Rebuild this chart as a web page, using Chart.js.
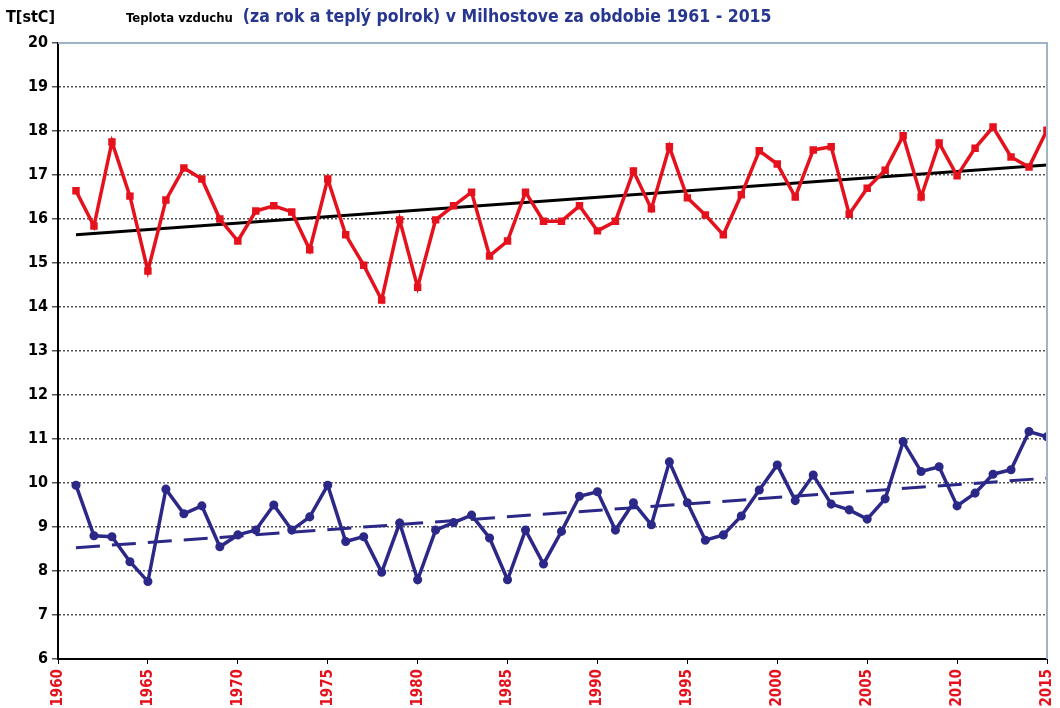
<!DOCTYPE html>
<html>
<head>
<meta charset="utf-8">
<script src="https://cdn.jsdelivr.net/npm/chart.js@4"></script>
<style>
  html, body { margin: 0; padding: 0; background: #fff; }
  #wrap { width: 1060px; height: 708px; position: relative; }
</style>
</head>
<body>
<div id="wrap"><canvas id="tempChart"></canvas></div>
<script>
// years 1961 - 2015
const firstYear = 1961;
const yearCount = 55;
const years = Array.from({ length: yearCount }, (_, i) => firstYear + i);

// annual mean for the warm half-year (red)
const warmHalf = [
    16.64, 15.84, 17.75, 16.52, 14.82, 16.43, 17.16, 16.91, 16.00, 15.50,
    16.18, 16.30, 16.16, 15.30, 16.91, 15.64, 14.95, 14.16, 15.98, 14.45,
    15.98, 16.30, 16.61, 15.16, 15.50, 16.61, 15.95, 15.95, 16.30, 15.73,
    15.95, 17.09, 16.23, 17.64, 16.48, 16.09, 15.64, 16.55, 17.55, 17.25,
    16.50, 17.57, 17.64, 16.11, 16.70, 17.11, 17.89, 16.50, 17.73, 16.98,
    17.61, 18.09, 17.41, 17.18, 18.02
];

// annual mean for the whole year (blue)
const wholeYear = [
    9.95, 8.80, 8.78, 8.21, 7.76, 9.86, 9.30, 9.48, 8.55, 8.82,
    8.93, 9.50, 8.93, 9.23, 9.95, 8.67, 8.78, 7.97, 9.09, 7.80,
    8.93, 9.10, 9.27, 8.75, 7.80, 8.93, 8.16, 8.90, 9.70, 9.80,
    8.93, 9.55, 9.05, 10.48, 9.55, 8.70, 8.82, 9.25, 9.84, 10.41,
    9.60, 10.18, 9.52, 9.39, 9.18, 9.64, 10.94, 10.26, 10.37, 9.48,
    9.77, 10.20, 10.30, 11.17, 11.05
];

// trend line ends (1961 and 2015)
const trendYears = [1961, 2015];
const warmTrend = [15.64, 17.23];
const wholeTrend = [8.53, 10.11];

const yTicks = [6, 7, 8, 9, 10, 11, 12, 13, 14, 15, 16, 17, 18, 19, 20];
const xTicks = [1960, 1965, 1970, 1975, 1980, 1985, 1990, 1995, 2000, 2005, 2010, 2015];

const toPoints = (xs, ys) => xs.map((x, i) => ({ x: x, y: ys[i] }));

const narrow = '"Liberation Sans Narrow", "Arial Narrow", "DejaVu Sans Condensed", Arial, sans-serif';

// title, unit label and the light frame on top / right
const decorPlugin = {
    id: 'decor',
    afterDraw(chart) {
        const c = chart.ctx;
        const a = chart.chartArea;
        c.save();
        c.strokeStyle = '#9fb4c7';
        c.lineWidth = 2;
        c.beginPath();
        c.moveTo(a.left, a.top);
        c.lineTo(a.right, a.top);
        c.lineTo(a.right, a.bottom);
        c.stroke();

        c.textBaseline = 'alphabetic';
        c.fillStyle = '#000';
        c.font = 'bold 16px ' + narrow;
        c.fillText('T[stC]', 6, 22);

        c.font = 'bold 13px ' + narrow;
        const t1 = 'Teplota vzduchu';
        c.fillText(t1, 126, 22);
        const w1 = c.measureText(t1).width;
        c.fillStyle = '#27368f';
        c.font = 'bold 17.5px ' + narrow;
        c.fillText('(za rok a teplý polrok) v Milhostove za obdobie 1961 - 2015', 126 + w1 + 10, 22);
        c.restore();
    }
};

const ctx = document.getElementById('tempChart');
const chart = new Chart(ctx, {
    type: 'line',
    data: {
        datasets: [
            {
                label: 'teplý polrok',
                data: toPoints(years, warmHalf),
                borderColor: '#e5111d',
                backgroundColor: '#e5111d',
                borderWidth: 3.5,
                pointStyle: 'rect',
                pointRadius: 2.8,
                tension: 0
            },
            {
                label: 'trend teplý polrok',
                data: toPoints(trendYears, warmTrend),
                borderColor: '#000',
                borderWidth: 3,
                pointRadius: 0
            },
            {
                label: 'rok',
                data: toPoints(years, wholeYear),
                borderColor: '#2b2888',
                backgroundColor: '#2b2888',
                borderWidth: 3.5,
                pointStyle: 'circle',
                pointRadius: 2.8,
                tension: 0
            },
            {
                label: 'trend rok',
                data: toPoints(trendYears, wholeTrend),
                borderColor: '#2b2888',
                borderWidth: 3,
                borderDash: [24, 12],
                pointRadius: 0
            }
        ]
    },
    options: {
        responsive: true,
        maintainAspectRatio: false,
        animation: false,
        layout: { padding: { top: 43, right: 13, left: 0, bottom: 0 } },
        plugins: {
            legend: { display: false },
            tooltip: { enabled: false }
        },
        scales: {
            x: {
                type: 'linear',
                min: 1960,
                max: 2015,
                afterBuildTicks: scale => { scale.ticks = xTicks.map(v => ({ value: v })); },
                afterFit: scale => {
                    scale.height = 49;
                    scale.paddingRight = 0;
                    scale.paddingLeft = 0;
                },
                border: { color: '#000', width: 2 },
                grid: { drawOnChartArea: false, color: '#000', tickLength: 5 },
                ticks: {
                    color: '#e5111d',
                    minRotation: 90,
                    maxRotation: 90,
                    padding: 5,
                    font: { family: narrow, size: 15, weight: 'bold' },
                    callback: v => String(v)
                }
            },
            y: {
                min: 6,
                max: 20,
                afterBuildTicks: scale => { scale.ticks = yTicks.map(v => ({ value: v })); },
                afterFit: scale => { scale.width = 58; },
                border: { color: '#000', width: 2, dash: [2, 2] },
                grid: {
                    color: '#555',
                    lineWidth: 1.5,
                    tickLength: 6,
                    tickBorderDash: [0, 0]
                },
                ticks: {
                    color: '#000',
                    padding: 4,
                    font: { family: narrow, size: 16, weight: 'bold' }
                }
            }
        }
    },
    plugins: [decorPlugin]
});
</script>
</body>
</html>
